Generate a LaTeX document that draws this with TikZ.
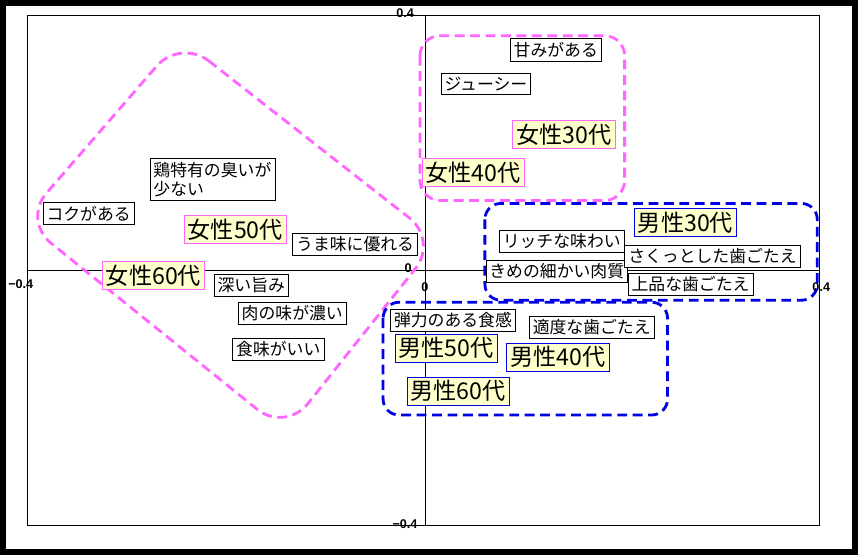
\documentclass[tikz,border=0pt]{standalone}
\usepackage{fontspec}
\setmainfont{Noto Sans CJK JP}
\newfontfamily\axisfont{Liberation Sans}
\usetikzlibrary{positioning}
\definecolor{memo}{RGB}{255,255,204}
\definecolor{pinkline}{RGB}{255,102,255}
\definecolor{blueline}{RGB}{0,0,230}

\begin{document}
\begin{tikzpicture}[
    x=0.25mm, y=-0.25mm,
    trait/.style={rectangle,draw=black,fill=white,font=\fontsize{12pt}{14pt}\selectfont,inner sep=2.5pt,align=left},
    female/.style={rectangle,draw=pinkline,fill=memo,font=\fontsize{16.5pt}{18pt}\selectfont,inner sep=2.5pt},
    male/.style={rectangle,draw=blueline,fill=memo,font=\fontsize{16.5pt}{18pt}\selectfont,inner sep=2.5pt},
    tick/.style={font=\axisfont\bfseries\fontsize{9pt}{10pt}\selectfont,inner sep=1pt},
    femgroup/.style={draw=pinkline,line width=2pt,dash pattern=on 7pt off 4pt,rounded corners=9mm},
    malegroup/.style={draw=blueline,line width=2pt,dash pattern=on 7pt off 4pt,rounded corners=4mm}
]
    % Frame
    \draw[fill=white,line width=4pt] (2,2) rectangle (856,552);
    \draw (27,14) rectangle (820,525);
    \draw (27,270) -- (820,270);
    \draw (425,14) -- (425,525);
    \node[tick] (xmin) at (20,284) {−0.4};
    \node[tick] (ymax) at (405,12) {0.4};
    \node[tick] (orga) at (408,268) {0};
    \node[tick] (orgb) at (425,287) {0};
    \node[tick] (xmax) at (822,287) {0.4};
    \node[tick] (ymin) at (405,524) {−0.4};

    % Groups
    \draw[femgroup] (180,38) -- (438,240) -- (285,432) -- (22,220) -- cycle;
    \draw[femgroup,rounded corners=5mm] (420,35) rectangle (625,200);
    \draw[malegroup] (485,203) rectangle (818,300);
    \draw[malegroup] (383,302) rectangle (668,415);

    % Nodes
    \node[trait] (sweet) at (556,49) {甘みがある};
    \node[trait] (juicy) at (486,83) {ジューシー};
    \node[female] (f30) at (564,134) {女性30代};
    \node[female] (f40) at (473,172) {女性40代};
    \node[trait] (smell) at (212,179) {鶏特有の臭いが\\少ない};
    \node[trait] (koku) at (88,213) {コクがある};
    \node[female] (f50) at (235,229) {女性50代};
    \node[trait] (umami) at (355,244) {うま味に優れる};
    \node[female] (f60) at (153,275) {女性60代};
    \node[trait] (deep) at (251,285) {深い旨み};
    \node[trait] (rich) at (292,313) {肉の味が濃い};
    \node[trait] (taste) at (278,349) {食味がいい};
    \node[trait] (flavor) at (562,241) {リッチな味わい};
    \node[trait] (fine) at (557,271) {きめの細かい肉質};
    \node[male] (m30) at (686,222) {男性30代};
    \node[trait] (crisp) at (713,256) {さくっとした歯ごたえ};
    \node[trait] (elegant) at (691,284) {上品な歯ごたえ};
    \node[trait] (elastic) at (453,320) {弾力のある食感};
    \node[trait] (moderate) at (592,327) {適度な歯ごたえ};
    \node[male] (m50) at (446,348) {男性50代};
    \node[male] (m40) at (558,357) {男性40代};
    \node[male] (m60) at (458,391) {男性60代};
\end{tikzpicture}
\end{document}
